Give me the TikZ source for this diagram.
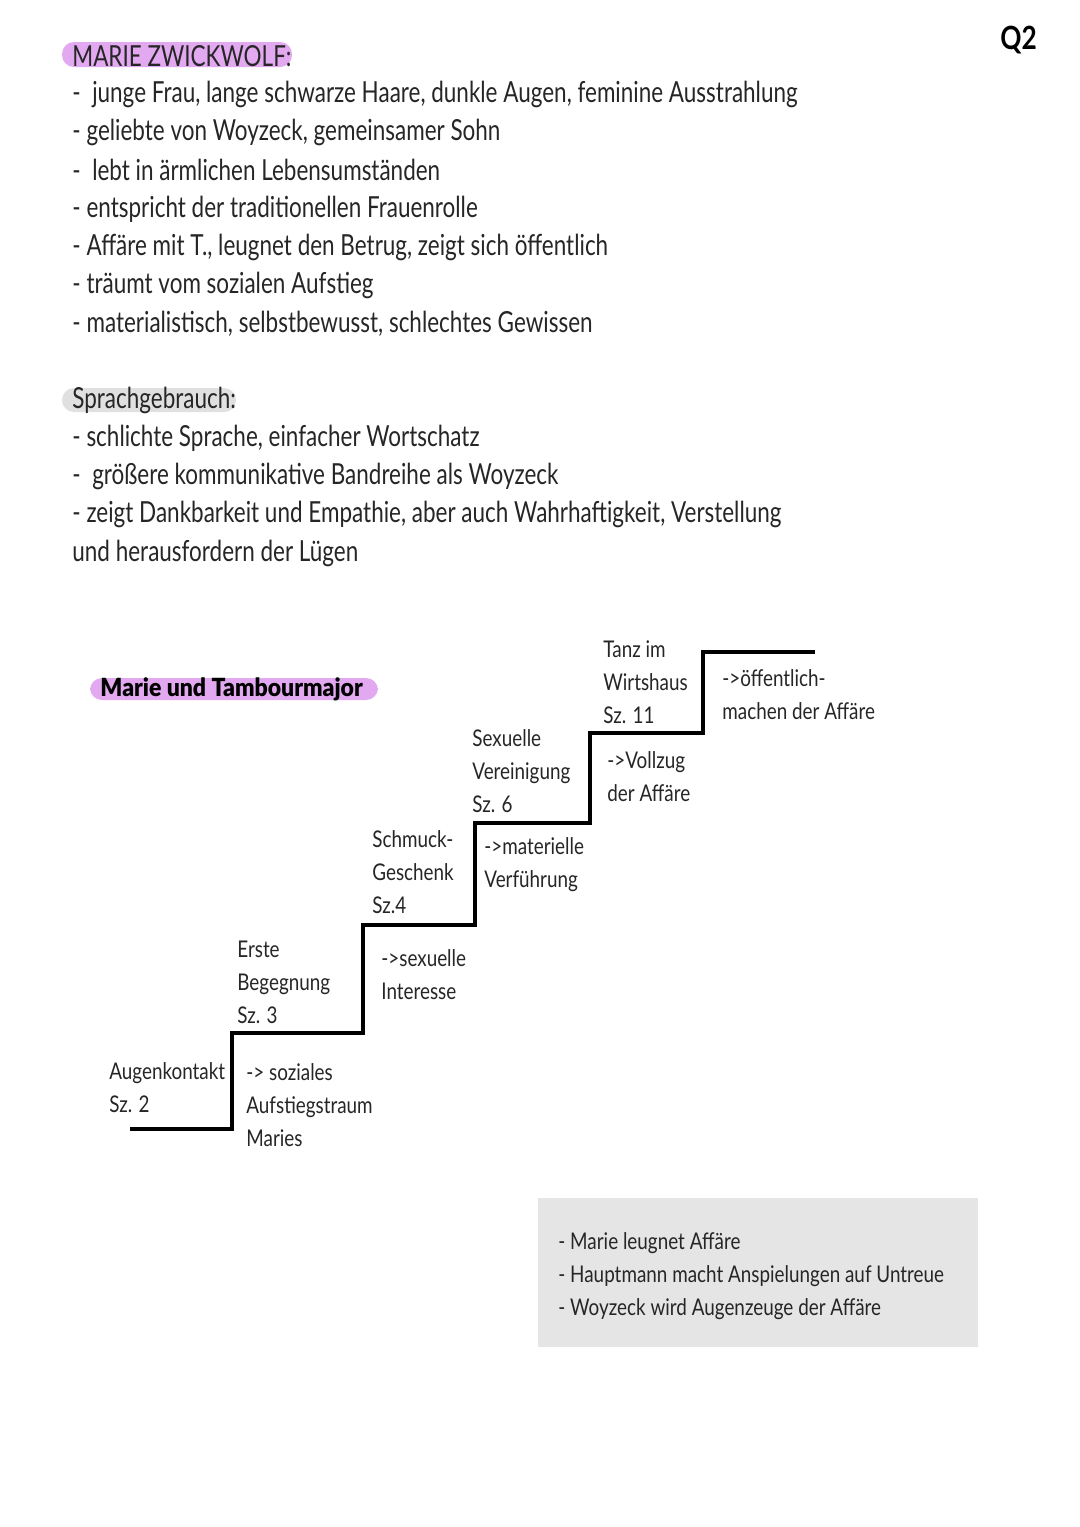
\documentclass[tikz,border=0pt]{standalone}
\usepackage{fontspec}
\setmainfont[FakeStretch=0.82]{Lato}
\newfontfamily\bigf[FakeStretch=0.775]{Lato}
\newfontfamily\boldf[FakeStretch=0.92]{Lato Black}
\begin{document}
\begin{tikzpicture}[x=0.5pt,y=-0.5pt,
 big/.style={anchor=west,inner sep=0pt,font=\bigf\fontsize{14.5}{17}\selectfont,text=black!85},
 small/.style={anchor=west,inner sep=0pt,font=\fontsize{11.5}{16.5}\selectfont,text=black!85,align=left},
 stairline/.style={line width=1.6pt}]
\useasboundingbox (0,0) rectangle (1080,1527);
\fill[fill=white] (0,0) rectangle (1080,1527);
\fill[rounded corners=6pt,fill={rgb,255:red,226;green,168;blue,240}] (62,42) rectangle (292,67);
\fill[rounded corners=6pt,fill=black!12] (62,388) rectangle (236,412);
\fill[rounded corners=6pt,fill={rgb,255:red,226;green,168;blue,240}] (90,678) rectangle (378,700);
\fill[fill=black!10] (538,1198) rectangle (978,1347);
\node[big] (t0) at (72,56) {MARIE ZWICKWOLF:};
\node[big] (t1) at (72,94) {-\ \ junge Frau, lange schwarze Haare, dunkle Augen, feminine Ausstrahlung};
\node[big] (t2) at (72,132) {- geliebte von Woyzeck, gemeinsamer Sohn};
\node[big] (t3) at (72,170) {-\ \ lebt in ärmlichen Lebensumständen};
\node[big] (t4) at (72,209) {- entspricht der traditionellen Frauenrolle};
\node[big] (t5) at (72,247) {- Affäre mit T., leugnet den Betrug, zeigt sich öffentlich};
\node[big] (t6) at (72,285) {- träumt vom sozialen Aufstieg};
\node[big] (t7) at (72,324) {- materialistisch, selbstbewusst, schlechtes Gewissen};
\node[big] (s0) at (72,400) {Sprachgebrauch:};
\node[big] (s1) at (72,438) {- schlichte Sprache, einfacher Wortschatz};
\node[big] (s2) at (72,476) {-\ \ größere kommunikative Bandreihe als Woyzeck};
\node[big] (s3) at (72,514) {- zeigt Dankbarkeit und Empathie, aber auch Wahrhaftigkeit, Verstellung};
\node[big] (s4) at (72,553) {und herausfordern der Lügen};
\node[anchor=west,inner sep=0pt,font=\boldf\fontsize{12.5}{15}\selectfont] (mt) at (100,689) {Marie und Tambourmajor};
\node[anchor=west,inner sep=0pt,font=\fontsize{16}{16}\selectfont\bfseries] (q2) at (1000,40) {Q2};
\draw[stairline] (130,1129) -- (232,1129) -- (232,1033) -- (363,1033) -- (363,925) -- (475,925) -- (475,823) -- (590,823) -- (590,733) -- (703,733) -- (703,652) -- (815,652);
\node[small,anchor=north west] (a1) at (109,1062) {Augenkontakt\\Sz. 2};
\node[small,anchor=north west] (a2) at (246,1063) {-> soziales\\Aufstiegstraum\\Maries};
\node[small,anchor=north west] (b1) at (237,941) {Erste\\Begegnung\\Sz. 3};
\node[small,anchor=north west] (b2) at (381,949) {->sexuelle\\Interesse};
\node[small,anchor=north west] (c1) at (372,830) {Schmuck-\\Geschenk\\Sz.4};
\node[small,anchor=north west] (c2) at (484,837) {->materielle\\Verführung};
\node[small,anchor=north west] (d1) at (472,729) {Sexuelle\\Vereinigung\\Sz. 6};
\node[small,anchor=north west] (d2) at (607,751) {->Vollzug\\der Affäre};
\node[small,anchor=north west] (e1) at (603,640) {Tanz im\\Wirtshaus\\Sz. 11};
\node[small,anchor=north west] (e2) at (722,669) {->öffentlich-\\machen der Affäre};
\node[small,anchor=north west] (g1) at (558,1232) {- Marie leugnet Affäre\\- Hauptmann macht Anspielungen auf Untreue\\- Woyzeck wird Augenzeuge der Affäre};
\end{tikzpicture}
\end{document}
